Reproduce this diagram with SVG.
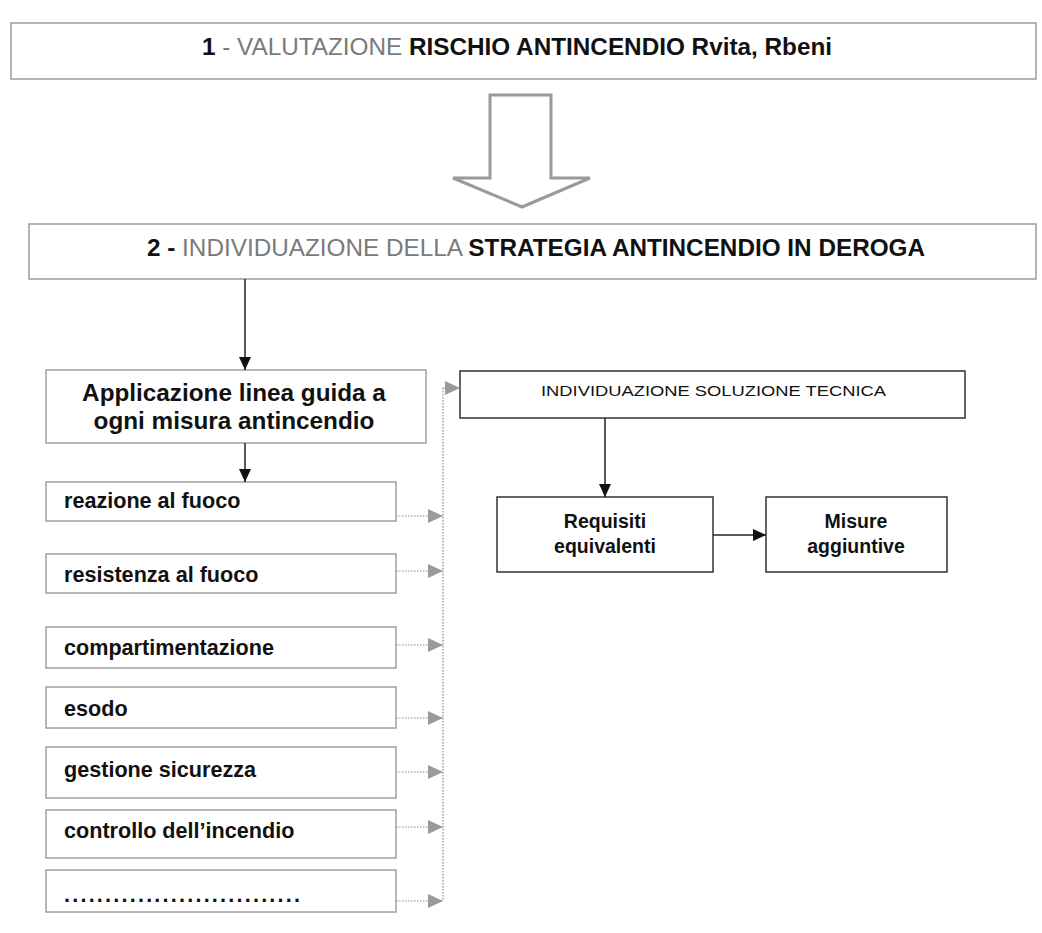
<svg xmlns="http://www.w3.org/2000/svg" width="1042" height="933" viewBox="0 0 1042 933">
<style>
  .frame { fill: #ffffff; stroke: #9a9a9a; stroke-width: 1.5; }
  .box { fill: #ffffff; stroke: #333333; stroke-width: 1.5; }
  .item { fill: #ffffff; stroke: #a0a0a0; stroke-width: 1.5; }
  text { font-family: "Liberation Sans", Arial, sans-serif; fill: #111111; }
  .title { font-size: 24.3px; }
  .b { font-weight: bold; }
  .g { fill: #7a7a7a; font-weight: normal; }
  .itxt { font-size: 21.6px; font-weight: bold; }
  .btxt { font-size: 19.5px; font-weight: bold; text-anchor: middle; }
  .solid { stroke: #222222; stroke-width: 1.5; fill: none; marker-end: url(#blk); }
  .dot { stroke: #8a8a8a; stroke-width: 1.2; stroke-dasharray: 1.5 1.5; fill: none; }
  .dotA { stroke: #8a8a8a; stroke-width: 1.2; stroke-dasharray: 1.5 1.5; fill: none; marker-end: url(#gry); }
</style>
<defs>
  <marker id="blk" markerUnits="userSpaceOnUse" markerWidth="13" markerHeight="12" refX="13" refY="6" orient="auto">
    <path d="M0,0 L13,6 L0,12 z" fill="#111111"/>
  </marker>
  <marker id="gry" markerUnits="userSpaceOnUse" markerWidth="15" markerHeight="14" refX="15" refY="7" orient="auto">
    <path d="M0,0 L15,7 L0,14 z" fill="#9a9a9a"/>
  </marker>
</defs>
<rect width="1042" height="933" fill="#ffffff"/>

<g id="step1">
  <rect class="frame" x="11" y="23" width="1025" height="56"/>
  <text class="title" x="202" y="55"><tspan class="b">1</tspan><tspan class="g"> - VALUTAZIONE </tspan><tspan class="b">RISCHIO ANTINCENDIO Rvita, Rbeni</tspan></text>
</g>

<g id="bigArrow">
  <polygon points="490,95 551,95 551,178 590,178 522,207 453,178 490,178" fill="#ffffff" stroke="#9a9a9a" stroke-width="3" stroke-linejoin="miter"/>
</g>

<g id="step2">
  <rect class="frame" x="29" y="224" width="1007" height="55"/>
  <text class="title" x="147" y="256"><tspan class="b">2 - </tspan><tspan class="g">INDIVIDUAZIONE DELLA </tspan><tspan class="b">STRATEGIA ANTINCENDIO IN DEROGA</tspan></text>
</g>

<g id="applicazione">
  <rect class="item" x="46" y="370" width="380" height="73"/>
  <text class="b" font-size="24.3" text-anchor="middle" x="234" y="401">Applicazione linea guida a</text>
  <text class="b" font-size="24.3" text-anchor="middle" x="234" y="429">ogni misura antincendio</text>
</g>

<g id="reazione">
  <rect class="item" x="46" y="482" width="350" height="39"/>
  <text class="itxt" x="64" y="508">reazione al fuoco</text>
</g>
<g id="resistenza">
  <rect class="item" x="46" y="554" width="350" height="39"/>
  <text class="itxt" x="64" y="582">resistenza al fuoco</text>
</g>
<g id="compartimentazione">
  <rect class="item" x="46" y="627" width="350" height="41"/>
  <text class="itxt" x="64" y="655">compartimentazione</text>
</g>
<g id="esodo">
  <rect class="item" x="46" y="687" width="350" height="41"/>
  <text class="itxt" x="64" y="716">esodo</text>
</g>
<g id="gestione">
  <rect class="item" x="46" y="747" width="350" height="51"/>
  <text class="itxt" x="64" y="777">gestione sicurezza</text>
</g>
<g id="controllo">
  <rect class="item" x="46" y="810" width="350" height="48"/>
  <text class="itxt" x="64" y="838">controllo dell’incendio</text>
</g>
<g id="altro">
  <rect class="item" x="46" y="870" width="350" height="42"/>
  <text class="itxt" x="64" y="902" textLength="236" lengthAdjust="spacing">.............................</text>
</g>

<g id="soluzione">
  <rect class="box" x="460" y="371" width="505" height="47"/>
  <text font-size="15.5" x="541" y="396" textLength="345" lengthAdjust="spacingAndGlyphs">INDIVIDUAZIONE SOLUZIONE  TECNICA</text>
</g>

<g id="requisiti">
  <rect class="box" x="497" y="497" width="216" height="75"/>
  <text class="btxt" x="605" y="528">Requisiti</text>
  <text class="btxt" x="605" y="553">equivalenti</text>
</g>

<g id="misure">
  <rect class="box" x="766" y="497" width="181" height="75"/>
  <text class="btxt" x="856" y="528">Misure</text>
  <text class="btxt" x="856" y="553">aggiuntive</text>
</g>

<g id="connectors">
  <line class="solid" x1="245" y1="279" x2="245" y2="370"/>
  <line class="solid" x1="245" y1="443" x2="245" y2="482"/>
  <line class="solid" x1="605" y1="418" x2="605" y2="497"/>
  <line class="solid" x1="713" y1="535" x2="766" y2="535"/>
  <line class="dot" x1="443" y1="388" x2="443" y2="901"/>
  <line class="dotA" x1="443" y1="388" x2="460" y2="388"/>
  <line class="dotA" x1="396" y1="516" x2="443" y2="516"/>
  <line class="dotA" x1="396" y1="571" x2="443" y2="571"/>
  <line class="dotA" x1="396" y1="645" x2="443" y2="645"/>
  <line class="dotA" x1="396" y1="718" x2="443" y2="718"/>
  <line class="dotA" x1="396" y1="772" x2="443" y2="772"/>
  <line class="dotA" x1="396" y1="827" x2="443" y2="827"/>
  <line class="dotA" x1="396" y1="901" x2="443" y2="901"/>
</g>
</svg>
